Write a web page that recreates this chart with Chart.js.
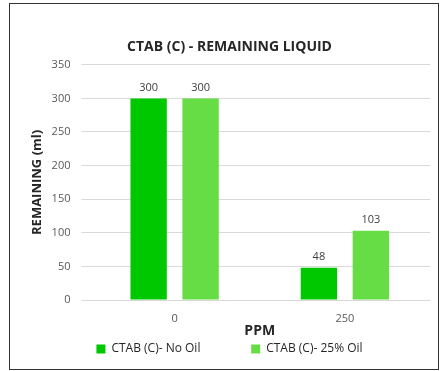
<!DOCTYPE html>
<html>
<head>
<meta charset="utf-8">
<script src="https://cdn.jsdelivr.net/npm/chart.js@4.4.1/dist/chart.umd.min.js"></script>
<style>
  html, body { margin: 0; padding: 0; background: #fff; }
  #frame {
    position: absolute; left: 9px; top: 3px;
    width: 428px; height: 365px;
    border: 1px solid #333;
  }
</style>
</head>
<body>
<div id="frame"><canvas id="ctab-chart" width="428" height="365"></canvas></div>
<script>
const ppmLabels = ['0', '250'];
const noOilValues = [300, 48];
const oilValues = [300, 103];
const seriesNames = ['CTAB (C)- No Oil', 'CTAB (C)- 25% Oil'];
const yTicks = [0, 50, 100, 150, 200, 250, 300, 350];

const FONT = "'Open Sans', 'Liberation Sans', sans-serif";

// value labels above each bar
const barValues = {
  id: 'barValues',
  afterDatasetsDraw(chart) {
    const ctx = chart.ctx;
    ctx.save();
    ctx.font = '11px ' + FONT;
    ctx.fillStyle = '#404040';
    ctx.textAlign = 'center';
    ctx.textBaseline = 'bottom';
    chart.data.datasets.forEach((ds, i) => {
      chart.getDatasetMeta(i).data.forEach((bar, j) => {
        ctx.fillText(ds.data[j], bar.x, bar.y - 5);
      });
    });
    ctx.restore();
  }
};

const ctx = document.getElementById('ctab-chart').getContext('2d');
new Chart(ctx, {
  type: 'bar',
  data: {
    labels: ppmLabels,
    datasets: [
      { label: seriesNames[0], data: noOilValues, backgroundColor: '#00C800' },
      { label: seriesNames[1], data: oilValues, backgroundColor: '#66DD44' }
    ]
  },
  options: {
    responsive: false,
    animation: false,
    devicePixelRatio: 1,
    categoryPercentage: 0.61,
    barPercentage: 0.7,
    layout: { padding: { left: 19, right: 8, top: 35, bottom: 4 } },
    plugins: {
      title: {
        display: true,
        text: 'CTAB (C) - REMAINING LIQUID',
        color: '#262626',
        font: { family: FONT, size: 14, weight: 'bold' },
        padding: { top: 0, bottom: 9 }
      },
      legend: {
        position: 'bottom',
        labels: {
          color: '#262626',
          font: { family: FONT, size: 12 },
          boxWidth: 9, boxHeight: 9,
          padding: 4,
          // extra gap after the first entry, like the original
          generateLabels(chart) {
            const items = Chart.defaults.plugins.legend.labels.generateLabels(chart);
            items[0].text = items[0].text + '\u00A0'.repeat(15);
            return items;
          }
        }
      },
      tooltip: { enabled: false }
    },
    scales: {
      x: {
        grid: { display: false },
        border: { display: false },
        ticks: { color: '#595959', font: { family: FONT, size: 11 }, padding: 4 },
        title: {
          display: true, text: 'PPM', color: '#262626',
          font: { family: FONT, size: 14, weight: 'bold' },
          padding: { top: -7, bottom: 0 }
        }
      },
      y: {
        min: 0, max: 350,
        afterBuildTicks: (axis) => { axis.ticks = yTicks.map(v => ({ value: v })); },
        grid: { color: '#D9D9D9' },
        border: { display: false },
        ticks: { color: '#595959', font: { family: FONT, size: 11 }, padding: 11 },
        title: {
          display: true, text: 'REMAINING (ml)', color: '#262626',
          font: { family: FONT, size: 13, weight: 'bold' },
          padding: { top: 0, bottom: -4 }
        }
      }
    }
  },
  plugins: [barValues]
});
</script>
</body>
</html>
